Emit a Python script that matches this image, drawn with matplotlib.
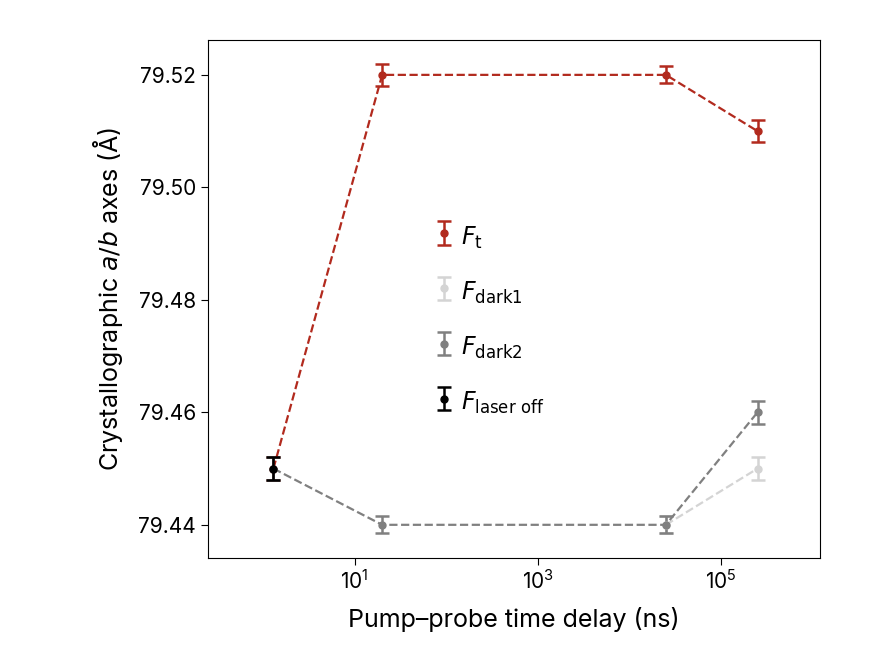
import matplotlib
matplotlib.use("Agg")
import matplotlib.pyplot as plt
import numpy as np

plt.rcParams["font.family"] = "Inter"

ft_x = [1.3, 20, 2.5e4, 2.5e5]
ft_y = [79.45, 79.52, 79.52, 79.51]
ft_err = [0.002, 0.002, 0.0015, 0.002]

dark1_x = [2.5e4, 2.5e5]
dark1_y = [79.44, 79.45]
dark1_err = [0.0015, 0.002]

dark2_x = [1.3, 20, 2.5e4, 2.5e5]
dark2_y = [79.45, 79.44, 79.44, 79.46]
dark2_err = [0.002, 0.0015, 0.0015, 0.002]

off_x = [1.3]
off_y = [79.45]
off_err = [0.002]

colors = ["#b22a1e", "#d4d4d4", "#808080", "#000000"]
labels = [r"$F_\mathrm{t}$", r"$F_\mathrm{dark1}$", r"$F_\mathrm{dark2}$", r"$F_\mathrm{laser\ off}$"]

fig = plt.figure(figsize=(8.73, 6.45), dpi=100)
ax = fig.add_axes([208 / 873, 1 - 558 / 645, 612 / 873, 518 / 645])

kw = dict(fmt="o", ls="--", ms=5, capsize=5, elinewidth=1.8, capthick=1.8, lw=1.6)
ax.errorbar(ft_x, ft_y, yerr=ft_err, color=colors[0], **kw)
ax.errorbar(dark1_x, dark1_y, yerr=dark1_err, color=colors[1], **kw)
ax.errorbar(dark2_x, dark2_y, yerr=dark2_err, color=colors[2], **kw)
ax.errorbar(off_x, off_y, yerr=off_err, color=colors[3], zorder=5, **kw)

# legend proxies: vertical bar + marker, no line
handles = [ax.errorbar([np.nan], [np.nan], yerr=[1], fmt="o", ls="none", ms=5,
                       capsize=5, elinewidth=1.8, capthick=1.8, color=c)
           for c in colors]

ax.set_xscale("log")
ax.set_xlim(10 ** -0.6, 10 ** 6.08)
ax.set_ylim(79.4341, 79.5262)
ax.set_xticks([10, 1e3, 1e5])
ax.minorticks_off()
ax.set_yticks([79.44, 79.46, 79.48, 79.50, 79.52])
ax.set_yticklabels(["79.44", "79.46", "79.48", "79.50", "79.52"])
ax.tick_params(labelsize=15, direction="out", length=5)
ax.set_xlabel("Pump–probe time delay (ns)", fontsize=18, labelpad=10)
ax.set_ylabel(r"Crystallographic $a/b$ axes (Å)", fontsize=18, labelpad=10)

ax.legend(handles, labels, loc="upper left", bbox_to_anchor=(0.34, 0.69), frameon=False,
          fontsize=17, handlelength=0.6, handletextpad=0.4, labelspacing=1.05,
          handleheight=1.6)

fig.savefig("out.png", dpi=100)
